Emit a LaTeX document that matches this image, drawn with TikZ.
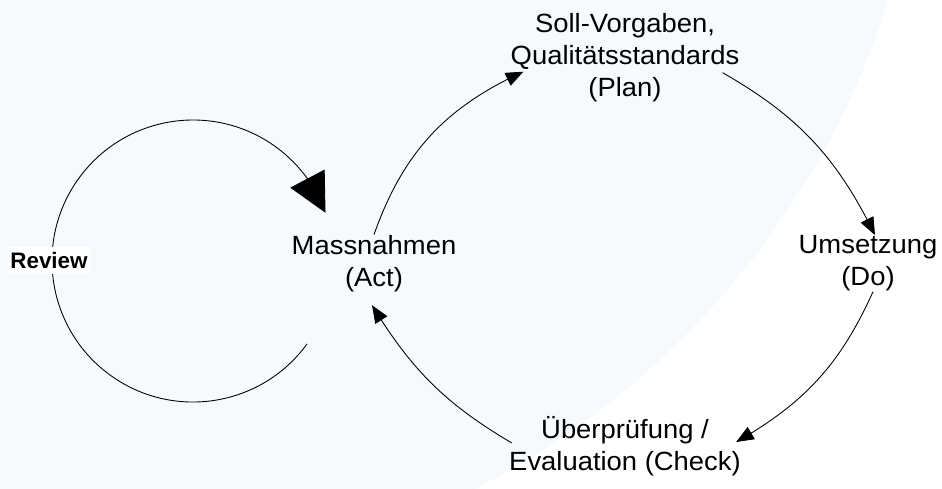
\documentclass[tikz,border=0pt]{standalone}
\usepackage{fontspec}
\setmainfont{Liberation Sans}
\newfontfamily\zyklusfont[FakeStretch=1.04]{Liberation Sans}
\usetikzlibrary{arrows.meta,bending}
\definecolor{hintergrund}{RGB}{246,250,252}

\begin{document}
\begin{tikzpicture}[x=0.02cm,y=0.02cm,
	etappe/.style={align=center,inner sep=0pt,font=\zyklusfont\fontsize{15}{18.4}\selectfont},
	pfeil/.style={-{Triangle[length=10pt,width=8pt]},line width=0.5pt},
	grosspfeil/.style={-{Triangle[length=22pt,width=22pt]},line width=0.5pt}]
	\useasboundingbox (0,0) rectangle (942,-488);
	% Hintergrund
	\fill[white] (0,0) rectangle (942,-488);
	\begin{scope}
	\clip (0,0) rectangle (942,-488);
	\fill[hintergrund] (98.6,248.5) circle[radius=827.6];
	\end{scope}
	% Beschreibung und Benennung der Knoten
	\node (P) at (625,-57.7) [etappe] {Soll-Vorgaben,\\Qualitätsstandards\\(Plan)};
	\node (D) at (868,-263.4) [etappe] {Umsetzung\\(Do)};
	\node (C) at (625,-446) [etappe] {Überprüfung /\\Evaluation (Check)};
	\node (A) at (374,-263.4) [etappe] {Massnahmen\\(Act)};
	\coordinate (M) at (193,-261);
	% Zyklus Plan - Do - Check - Act
	\draw[pfeil] (A.north) to[bend left=23] ([shift={(13,-14)}]P.west);
	\draw[pfeil] ([shift={(-17,-15)}]P.east) to[bend left=17] ([shift={(7,0)}]D.north);
	\draw[pfeil] ([shift={(5,0)}]D.south) to[bend left=18] ([shift={(-5,4)}]C.east);
	\draw[pfeil] ([shift={(3,3)}]C.west) to[bend left=14] ([shift={(-2,-13)}]A.south);
	% Review-Schleife
	\draw[grosspfeil] ([shift={(-36:141)}]M) arc[start angle=-36,end angle=-340,radius=141];
	\node (R) at (49,-260.5) [fill=white,inner xsep=1.2pt,inner ysep=3pt,font=\bfseries\fontsize{12.75}{15}\selectfont] {Review};
\end{tikzpicture}
\end{document}
